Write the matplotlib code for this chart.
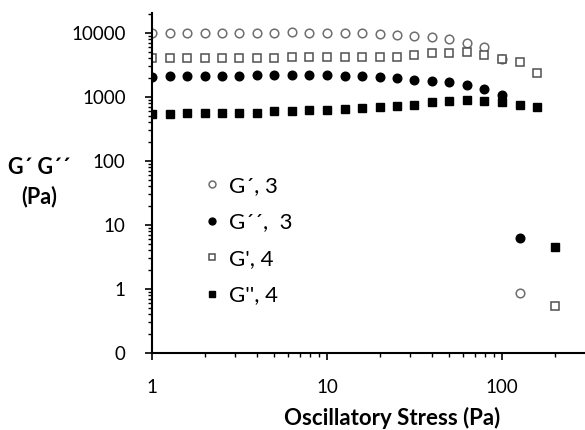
import matplotlib
matplotlib.use("Agg")
import matplotlib.pyplot as plt
from matplotlib.ticker import FixedLocator, FixedFormatter, LogLocator, NullFormatter

plt.rcParams['font.family'] = ['Lato', 'DejaVu Sans']

# Oscillatory stress steps (Pa)
stress = [1.0, 1.26, 1.58, 2.0, 2.51, 3.16, 3.98, 5.01, 6.31, 7.94, 10.0, 12.6,
          15.8, 20.0, 25.1, 31.6, 39.8, 50.1, 63.1, 79.4, 100.0, 126.0, 158.0, 200.0]

# sample 3 (22 points)
g1_3 = [9900, 9900, 9900, 9900, 9900, 9900, 9950, 10000, 10250, 10100, 10100, 9900,
        9900, 9650, 9410, 8980, 8570, 7980, 7060, 5990, 3900, 0.87]
g2_3 = [2040, 2090, 2090, 2090, 2100, 2100, 2220, 2200, 2220, 2220, 2220, 2160,
        2160, 2040, 1970, 1860, 1790, 1710, 1550, 1330, 1080, 6.2]
# sample 4 (24 points)
g1_4 = [4040, 4040, 4040, 4040, 4040, 4040, 4040, 4060, 4190, 4280, 4280, 4280,
        4280, 4280, 4280, 4550, 4890, 4940, 5010, 4440, 3900, 3570, 2360, 0.54]
g2_4 = [543, 549, 562, 562, 562, 562, 570, 596, 596, 618, 634, 649,
        663, 698, 731, 757, 834, 853, 906, 853, 822, 757, 698, 4.5]

labels = ["G\u00b4, 3", "G\u00b4\u00b4,  3", "G', 4", "G'', 4"]
ytick_vals = [0.1, 1, 10, 100, 1000, 10000]
ytick_text = ["0", "1", "10", "100", "1000", "10000"]

fig = plt.figure(figsize=(5.85, 4.3), dpi=100)
ax = fig.add_axes([152/585, 1 - 353/430, 433/585, 340/430])

ax.plot(stress[:len(g1_3)], g1_3, linestyle='none', marker='o', markersize=6.2,
        markerfacecolor='white', markeredgecolor='#6e6e6e', markeredgewidth=1.1, label=labels[0])
ax.plot(stress[:len(g2_3)], g2_3, linestyle='none', marker='o', markersize=6.2,
        markerfacecolor='black', markeredgecolor='black', label=labels[1])
ax.plot(stress[:len(g1_4)], g1_4, linestyle='none', marker='s', markersize=5.8,
        markerfacecolor='white', markeredgecolor='#505050', markeredgewidth=1.1, label=labels[2])
ax.plot(stress[:len(g2_4)], g2_4, linestyle='none', marker='s', markersize=6.2,
        markerfacecolor='black', markeredgecolor='black', label=labels[3])

ax.set_xscale('log')
ax.set_yscale('log')
ax.set_xlim(1, 10 ** (433 / 175))
ax.set_ylim(0.1, 10 ** (4 + 20 / 64.25))

ax.yaxis.set_major_locator(FixedLocator(ytick_vals))
ax.yaxis.set_major_formatter(FixedFormatter(ytick_text))
ax.yaxis.set_minor_locator(LogLocator(base=10, subs=range(2, 10)))
ax.yaxis.set_minor_formatter(NullFormatter())
ax.xaxis.set_major_locator(FixedLocator([1, 10, 100]))
ax.xaxis.set_major_formatter(FixedFormatter(["1", "10", "100"]))
ax.xaxis.set_minor_locator(LogLocator(base=10, subs=range(2, 10)))
ax.xaxis.set_minor_formatter(NullFormatter())

for s in ['top', 'right']:
    ax.spines[s].set_visible(False)
for s in ['left', 'bottom']:
    ax.spines[s].set_linewidth(1.5)
    ax.spines[s].set_color('black')

ax.tick_params(which='major', direction='out', length=5, width=1.2, labelsize=13.5, colors='black')
ax.tick_params(which='minor', direction='out', length=3, width=1.0)
ax.tick_params(axis='y', which='major', pad=14)
ax.tick_params(axis='x', which='major', pad=14)

ax.set_xlabel("Oscillatory Stress (Pa)", fontsize=16, fontweight='bold')
ax.xaxis.set_label_coords((392 - 152) / 433, -(418 - 353) / 340)
ax.xaxis.label.set_va('center')

fig.text(39 / 585, 1 - 182 / 430, "G\u00b4 G\u00b4\u00b4\n(Pa)", fontsize=15.5, fontweight='bold',
         ha='center', va='center', multialignment='center', linespacing=1.45)

leg = ax.legend(loc='upper left', bbox_to_anchor=((205 - 152) / 433, (353 - 176) / 340),
                frameon=False, fontsize=16, markerscale=0.8, handlelength=0.6,
                handletextpad=0.5, labelspacing=0.74, borderpad=0, borderaxespad=0)

plt.savefig("out.png", dpi=100, facecolor='w')
